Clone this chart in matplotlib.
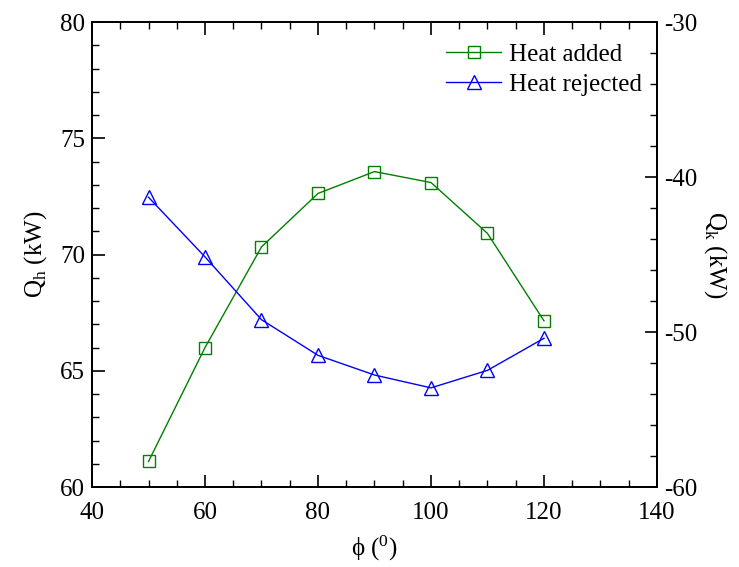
import matplotlib
matplotlib.use("Agg")
import matplotlib.pyplot as plt
from matplotlib.ticker import MultipleLocator

plt.rcParams['font.family'] = ['Liberation Serif', 'DejaVu Serif']
plt.rcParams['mathtext.fontset'] = 'custom'
plt.rcParams['mathtext.rm'] = 'Liberation Serif'
plt.rcParams['axes.unicode_minus'] = False

# data
phi = [50, 60, 70, 80, 90, 100, 110, 120]
heat_added = [61.1, 66.0, 70.33, 72.63, 73.57, 73.1, 70.91, 67.15]
heat_rejected = [-41.3, -45.15, -49.2, -51.5, -52.77, -53.6, -52.47, -50.4]

fig = plt.figure(figsize=(7.39, 5.67), dpi=100)
ax = fig.add_axes([0.1245, 0.141, 0.7645, 0.82])
ax2 = ax.twinx()

l1, = ax.plot(phi, heat_added, color='green', lw=1.0, marker='s', ms=8,
              mfc='none', mec='green', mew=1.0, label='Heat added')
l2, = ax2.plot(phi, heat_rejected, color='blue', lw=1.0, marker='^', ms=10,
               mfc='none', mec='blue', mew=1.0, label='Heat rejected')

fs = 18
ax.set_xlim(40, 140)
ax.set_ylim(60, 80)
ax2.set_ylim(-60, -30)
ax.xaxis.set_major_locator(MultipleLocator(20))
ax.xaxis.set_minor_locator(MultipleLocator(5))
ax.yaxis.set_major_locator(MultipleLocator(5))
ax.yaxis.set_minor_locator(MultipleLocator(1))
ax2.yaxis.set_major_locator(MultipleLocator(10))
ax2.yaxis.set_minor_locator(MultipleLocator(2))

ax.tick_params(axis='x', which='both', direction='in', top=True, labelsize=fs, pad=11)
ax.tick_params(axis='y', which='both', direction='in', right=False, labelsize=fs, pad=5)
ax2.tick_params(axis='y', which='both', direction='in', labelsize=fs, pad=5)
for a in (ax, ax2):
    a.tick_params(which='major', length=9, width=1.2)
    a.tick_params(which='minor', length=5, width=1.0)
    for s in a.spines.values():
        s.set_linewidth(1.3)

ax.set_xlabel('\u03d5 ($\\mathrm{^0}$)', fontsize=fs, labelpad=7)
ax.set_ylabel(r'Q$_\mathrm{h}$ (kW)', fontsize=fs, labelpad=8)
ax2.set_ylabel(r'Q$_\mathrm{k}$ (kW)', fontsize=fs, rotation=270, labelpad=23)

ax.legend(handles=[l1, l2], loc='upper right', bbox_to_anchor=(1.011, 1.0),
          frameon=False, fontsize=fs, handlelength=2.2, handletextpad=0.3,
          labelspacing=0.3, borderaxespad=0.45)

fig.savefig('out.png', dpi=100)
